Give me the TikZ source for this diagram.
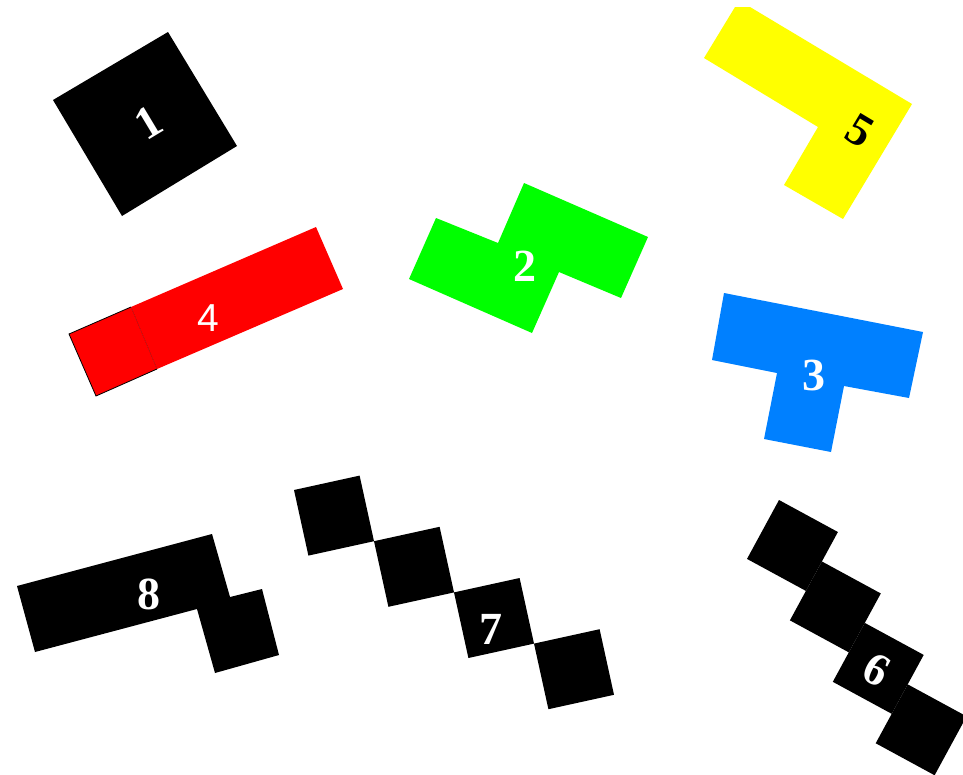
\documentclass[tikz,border=0pt]{standalone}
\usepackage{fontspec}
\usetikzlibrary{calc}
\setmainfont{Liberation Serif}
\newfontfamily\sansdigits{Liberation Sans}
\definecolor{pyellow}{RGB}{255,255,0}
\definecolor{pgreen}{RGB}{0,255,0}
\definecolor{pred}{RGB}{255,0,0}
\definecolor{pblue}{RGB}{0,128,255}
\tikzset{
  piece/.style={fill=#1, draw=none},
  lab/.style={text=white, font=\fontsize{46}{46}\selectfont\bfseries, inner sep=0pt},
  labdark/.style={text=black, font=\fontsize{46}{46}\selectfont\bfseries, inner sep=0pt},
  labsans/.style={text=white, font=\sansdigits\fontsize{39}{39}\selectfont, inner sep=0pt},
}
\begin{document}
\begin{tikzpicture}[x=1pt,y=-1pt]
\useasboundingbox (0,0) rectangle (963,774);
\clip (0,0) rectangle (963,774);
\fill[white] (0,0) rectangle (963,774);

% 1: black square
\fill[piece=black] (53,100) -- (168,32) -- (237,146) -- (122,216) -- cycle;
\node[lab, rotate=31] (l1) at (149,123) {1};

% 5: yellow L
\fill[piece=pyellow] (704,58) -- (735,7) -- (750,7) -- (912,104) -- (843,219) -- (784,185) -- (818,127) -- cycle;
\node[labdark, rotate=-31] (l5) at (860,131) {5};

% 2: green S
\fill[piece=pgreen] (436,218) -- (498,243) -- (524,183) -- (648,237) -- (621,298) -- (559,272) -- (532,333) -- (409,279) -- cycle;
\node[lab] (l2) at (525,266) {2};

% 4: red bar
\filldraw[fill=pred, draw=black, line width=0.8pt] (131,307) -- (69,334) -- (96,396) -- (157,369);
\fill[piece=pred] (131,307) -- (316,227) -- (343,289) -- (157,369) -- cycle;
\draw[red!60!black, line width=0.3pt] (131,307) -- (157,369);
\node[labsans] (l4) at (208,318) {4};

% 3: blue T
\fill[piece=pblue] (724,293) -- (923,332) -- (909,398) -- (844,386) -- (831,452) -- (764,439) -- (777,373) -- (712,360) -- cycle;
\node[lab] (l3) at (814,375) {3};

% 8: black bar with offset square
\fill[piece=black] (17,586) -- (212,534) -- (230,597) -- (262,589) -- (279,655) -- (215,673) -- (197,609) -- (35,652) -- cycle;
\node[lab] (l8) at (149,594) {8};

% 7: diagonal chain of four squares
\foreach \k in {0,1,2,3}{
  \fill[piece=black] ($(294,490)+\k*(80,51.2)$) -- ++(65.6,-14.4) -- ++(14.4,65.6) -- ++(-65.6,14.4) -- cycle;
}
\node[lab] (l7) at (491,629) {7};

% 6: staggered chain of four squares
\foreach \k in {0,1,2,3}{
  \fill[piece=black] ($(779,500)+\k*(42.9,61.45)$) -- ++(58.9,32.0) -- ++(-32.0,58.9) -- ++(-58.9,-32.0) -- cycle;
}
\node[lab, rotate=-28.5] (l6) at (877,670) {6};
\end{tikzpicture}
\end{document}
